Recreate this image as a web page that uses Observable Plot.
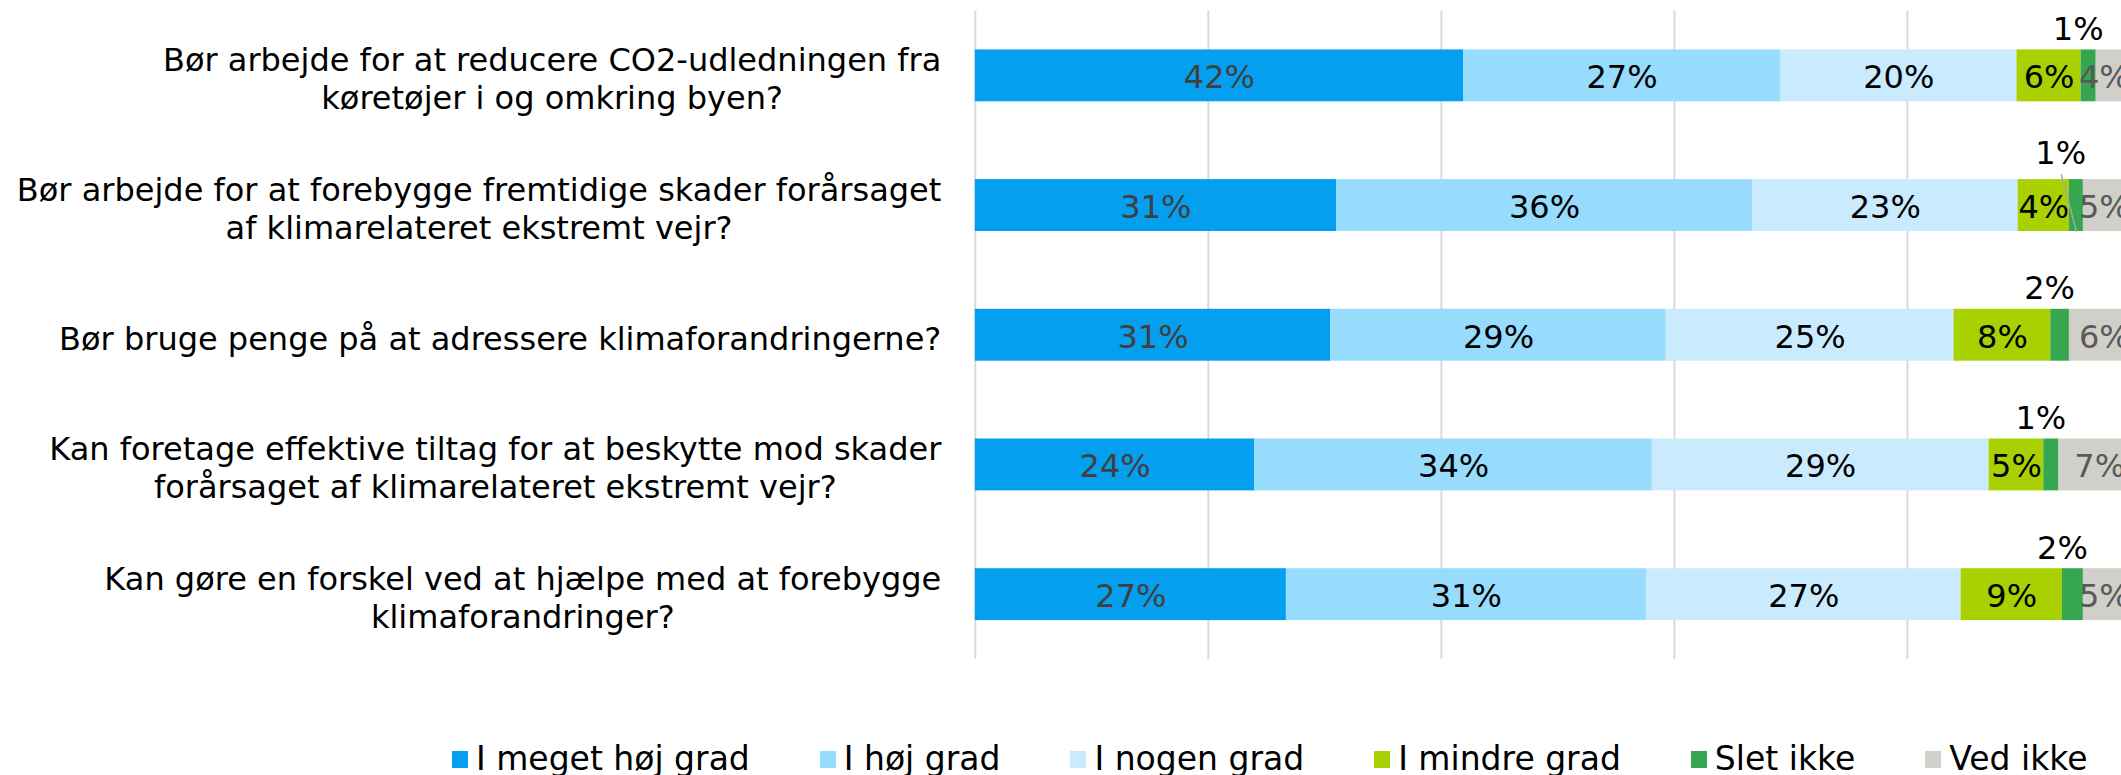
<!DOCTYPE html>
<html><head><meta charset="utf-8">
<script src="https://cdn.jsdelivr.net/npm/d3@7"></script>
<script src="https://cdn.jsdelivr.net/npm/@observablehq/plot@0.6"></script>
<style>
html,body{margin:0;padding:0;background:#fff;overflow:hidden;width:2121px;height:775px;}
#chart{position:absolute;left:0;top:0;}
#legend{position:absolute;left:452px;top:740px;display:flex;gap:70px;font-family:"DejaVu Sans";font-size:33px;line-height:38px;white-space:nowrap;color:#000;}
.item{display:flex;align-items:center;}
.sw{width:16px;height:17px;margin-right:8px;}
</style></head><body>
<div id="chart"></div><div id="legend"></div>
<script>
// ---- data ----
const questions = [
  "Bør arbejde for at reducere CO2-udledningen fra\nkøretøjer i og omkring byen?",
  "Bør arbejde for at forebygge fremtidige skader forårsaget\naf klimarelateret ekstremt vejr?",
  "Bør bruge penge på at adressere klimaforandringerne?",
  "Kan foretage effektive tiltag for at beskytte mod skader\nforårsaget af klimarelateret ekstremt vejr?",
  "Kan gøre en forskel ved at hjælpe med at forebygge\nklimaforandringer?"
];
const series = ["I meget høj grad", "I høj grad", "I nogen grad", "I mindre grad", "Slet ikke", "Ved ikke"];
const megetHoej = [41.9, 31.0, 30.5, 24.0, 26.7];
const hoej      = [27.2, 35.7, 28.8, 34.1, 30.9];
const nogen     = [20.3, 22.8, 24.7, 28.9, 27.0];
const mindre    = [5.5, 4.4, 8.3, 4.7, 8.7];
const sletIkke  = [1.3, 1.2, 1.6, 1.3, 1.8];
const vedIkke   = [3.8, 4.9, 6.1, 7.0, 4.9];
const gridTicks = [0, 20, 40, 60, 80];
const colors = ["#049FEF", "#97DBFD", "#C9EBFD", "#A9D101", "#37A651", "#D0CFCA"];

// ---- build table ----
const values = [megetHoej, hoej, nogen, mindre, sletIkke, vedIkke];
const rows = [];
questions.forEach((q, i) => {
  let acc = 0;
  series.forEach((s, k) => {
    const v = values[k][i];
    rows.push({i, q, s, k, v, x1: acc, x2: acc + v, mid: acc + v / 2, label: Math.round(v) + "%"});
    acc += v;
  });
});
const leaderRows = [1]; // question index whose small label has a leader line

const ctx = document.createElement("canvas").getContext("2d");
ctx.font = '32px "DejaVu Sans"';

const qMarks = questions.map((q, i) => {
  const w = Math.max(...q.split("\n").map(l => ctx.measureText(l).width));
  return Plot.text([i], {x: () => 0, y: d => d, text: () => q, textAnchor: "middle",
    dx: -(34 + w / 2), dy: 2, lineHeight: 1.2, fontSize: 32, fill: "#000"});
});

const plot = Plot.plot({
  width: 2121, height: 700,
  x: {domain: [0, 100], range: [974.8, 2140], axis: null},
  y: {domain: [-0.5, 4.5], range: [10.5, 659], axis: null},
  color: {domain: series, range: colors},
  style: {fontFamily: '"DejaVu Sans"', background: "#fff"},
  marks: [
    Plot.ruleX(gridTicks, {y1: () => -0.5, y2: () => 4.5, stroke: "#D9D9D9", strokeWidth: 2}),
    Plot.rect(rows, {x1: "x1", x2: "x2", y1: d => d.i - 0.2, y2: d => d.i + 0.2, fill: "s"}),
    Plot.text(rows.filter(d => d.k === 0), {x: "mid", y: "i", text: "label", fill: "#404040", fontSize: 32, dy: 2}),
    Plot.text(rows.filter(d => d.k >= 1 && d.k <= 3), {x: "mid", y: "i", text: "label", fill: "#000", fontSize: 32, dy: 2}),
    Plot.text(rows.filter(d => d.k === 5), {x: d => Math.min(d.mid, 96.9), y: "i", text: "label", fill: "#595959", fontSize: 32, dy: 2}),
    Plot.link(rows.filter(d => d.k === 4 && leaderRows.includes(d.i)), {
      x1: "mid", y1: d => d.i + 0.2, x2: d => d.mid - 1.3, y2: d => d.i - 0.24,
      stroke: "#A6A6A6", strokeWidth: 1.5}),
    Plot.text(rows.filter(d => d.k === 4), {
      x: d => d.mid - (leaderRows.includes(d.i) ? 1.35 : 0.9),
      y: d => d.i - (leaderRows.includes(d.i) ? 0.4 : 0.355),
      text: "label", fill: "#000", fontSize: 32}),
    ...qMarks
  ]
});
document.getElementById("chart").appendChild(plot);

const legend = document.getElementById("legend");
series.forEach((s, k) => {
  const it = document.createElement("div");
  it.className = "item";
  const sw = document.createElement("div");
  sw.className = "sw";
  sw.style.background = colors[k];
  const t = document.createElement("span");
  t.textContent = s;
  it.appendChild(sw); it.appendChild(t);
  legend.appendChild(it);
});
</script>
</body></html>
